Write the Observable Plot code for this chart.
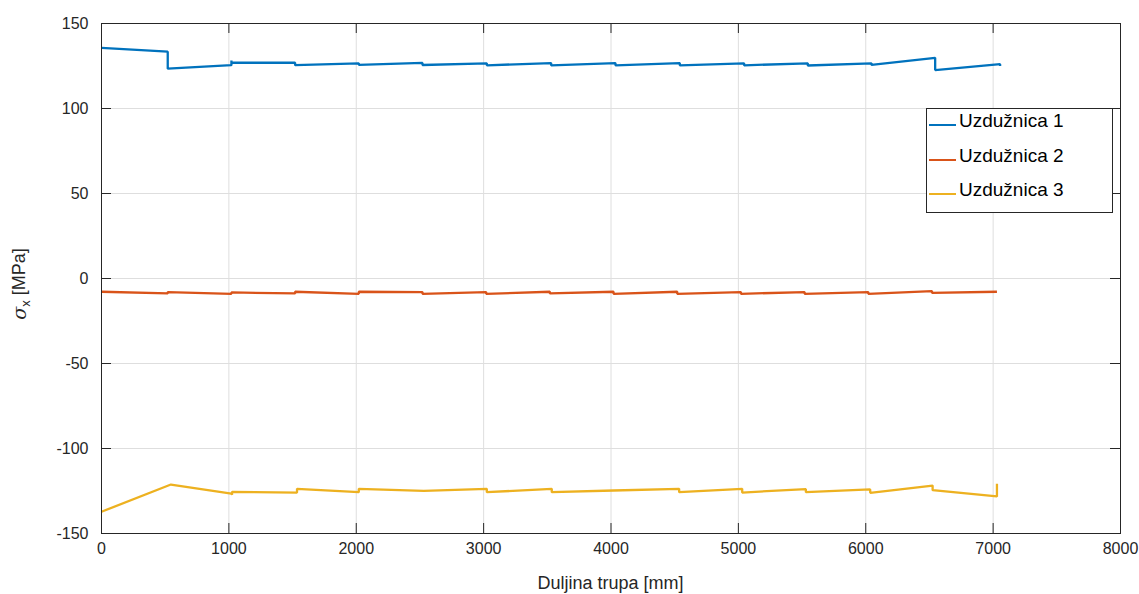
<!DOCTYPE html>
<html>
<head>
<meta charset="utf-8">
<script src="https://cdn.jsdelivr.net/npm/d3@7"></script>
<script src="https://cdn.jsdelivr.net/npm/@observablehq/plot@0.6"></script>
<style>
  html, body { margin: 0; padding: 0; background: #fff; }
  #wrap { position: relative; width: 1139px; height: 594px; font-family: "Liberation Sans", Arial, Helvetica, sans-serif; }
  #legend { position: absolute; left: 926px; top: 108px; width: 187px; height: 105px; border: 1px solid #262626; background: #fff; box-sizing: border-box; }
  .row { position: absolute; left: 2px; height: 24px; display: flex; align-items: flex-end; font-size: 19px; color: #000; }
  .sw { width: 27px; height: 0; border-top: 2.5px solid; margin-right: 3px; margin-bottom: 6px; }
</style>
</head>
<body>
<div id="wrap"><div id="legend"></div></div>
<script>
// ---- data ----
const seriesNames = ["Uzdužnica 1", "Uzdužnica 2", "Uzdužnica 3"];
const seriesColors = ["#0072BD", "#D95319", "#EDB120"];

const blueX = [0, 520, 520, 1020, 1020, 1020, 1520, 1520, 2020, 2020, 2520, 2520, 3025, 3025, 3530, 3530, 4035, 4035, 4540, 4540, 5045, 5045, 5545, 5545, 6045, 6045, 6545, 6545, 7055, 7055];
const blueY = [135.7, 133.4, 123.4, 125.5, 128.2, 126.9, 126.9, 125.5, 126.6, 125.7, 126.8, 125.6, 126.6, 125.4, 126.7, 125.4, 126.7, 125.4, 126.7, 125.4, 126.6, 125.4, 126.6, 125.3, 126.6, 125.6, 129.8, 122.6, 126.1, 125.0];

const orangeX = [0, 520, 520, 1020, 1020, 1520, 1520, 2020, 2020, 2520, 2520, 3020, 3020, 3520, 3520, 4020, 4020, 4520, 4520, 5020, 5020, 5520, 5520, 6020, 6020, 6520, 6520, 7030];
const orangeY = [-7.8, -8.8, -8.0, -9.0, -8.2, -8.8, -7.8, -9.0, -7.8, -8.0, -9.0, -8.0, -9.0, -7.8, -8.8, -7.8, -9.0, -7.8, -9.0, -8.0, -9.0, -8.0, -9.0, -8.0, -9.0, -7.4, -8.4, -7.8];

const yellowX = [0, 545, 1020, 1025, 1025, 1535, 1535, 2020, 2020, 2530, 3025, 3025, 3535, 3535, 4020, 4535, 4535, 5030, 5030, 5530, 5530, 6035, 6035, 6525, 6525, 7030, 7030];
const yellowY = [-137.2, -121.2, -126.6, -127.2, -125.5, -125.9, -123.7, -125.7, -123.7, -124.9, -123.7, -125.7, -123.7, -125.7, -124.7, -123.7, -125.7, -123.7, -125.9, -123.9, -125.7, -124.1, -126.1, -121.8, -124.5, -128.2, -120.8];

const xTicks = [0, 1000, 2000, 3000, 4000, 5000, 6000, 7000, 8000];
const yTicks = [-150, -100, -50, 0, 50, 100, 150];
const xLabel = "Duljina trupa [mm]";

// ---- build ----
const W = 1139, H = 594;
const mL = 101, mR = 19, mT = 23, mB = 61;
const plotW = W - mL - mR, plotH = H - mT - mB;
const tickLen = 10;
const axisColor = "#262626";

const allX = [blueX, orangeX, yellowX];
const allY = [blueY, orangeY, yellowY];
const rows = [];
seriesNames.forEach((name, s) => {
  allX[s].forEach((x, i) => rows.push({series: name, x, y: allY[s][i], order: i}));
});

const chart = Plot.plot({
  width: W, height: H,
  marginLeft: mL, marginRight: mR, marginTop: mT, marginBottom: mB,
  style: {fontFamily: "Liberation Sans, Arial, Helvetica, sans-serif", fontSize: "16px", color: axisColor, background: "#fff"},
  x: {domain: [0, 8000], label: null},
  y: {domain: [-150, 150], label: null},
  color: {domain: seriesNames, range: seriesColors},
  marks: [
    Plot.gridX(xTicks, {stroke: "#dedede", strokeOpacity: 1, strokeWidth: 1}),
    Plot.gridY(yTicks, {stroke: "#dedede", strokeOpacity: 1, strokeWidth: 1}),
    Plot.line(rows, {x: "x", y: "y", z: "series", stroke: "series", strokeWidth: 2.3, strokeLinejoin: "miter", strokeLinecap: "butt"}),
    Plot.frame({stroke: axisColor, strokeWidth: 1}),
    Plot.tickX(xTicks, {x: d => d, stroke: axisColor, insetTop: plotH - tickLen}),
    Plot.tickX(xTicks, {x: d => d, stroke: axisColor, insetBottom: plotH - tickLen}),
    Plot.tickY(yTicks, {y: d => d, stroke: axisColor, insetRight: plotW - tickLen}),
    Plot.tickY(yTicks, {y: d => d, stroke: axisColor, insetLeft: plotW - tickLen}),
    Plot.axisX(xTicks, {tickSize: 0, tickPadding: 9, label: null, tickFormat: d => String(d), fill: axisColor}),
    Plot.axisY(yTicks, {tickSize: 0, tickPadding: 13, label: null, tickFormat: d => String(d), fill: axisColor})
  ]
});

document.getElementById("wrap").prepend(chart);

const svg = d3.select(chart);
svg.append("text")
  .attr("x", mL + plotW / 2).attr("y", 589)
  .attr("text-anchor", "middle")
  .attr("fill", axisColor)
  .style("font-size", "18px")
  .text(xLabel);

const yl = svg.append("text")
  .attr("transform", `translate(26,${mT + plotH / 2 + 6}) rotate(-90)`)
  .attr("text-anchor", "middle")
  .attr("fill", axisColor)
  .style("font-size", "18px");
yl.append("tspan").attr("font-style", "italic").attr("font-family", "DejaVu Serif, serif").style("font-size", "19px").text("σ");
yl.append("tspan").attr("dy", "0.3em").style("font-size", "13px").text("x");
yl.append("tspan").attr("dy", "-0.3em").text(" [MPa]");

// legend
const legend = d3.select("#legend");
seriesNames.forEach((name, i) => {
  const r = legend.append("div").attr("class", "row").style("top", (-1 + i * 34.7) + "px");
  r.append("div").attr("class", "sw").style("border-top-color", seriesColors[i]);
  r.append("span").text(name);
});
</script>
</body>
</html>
